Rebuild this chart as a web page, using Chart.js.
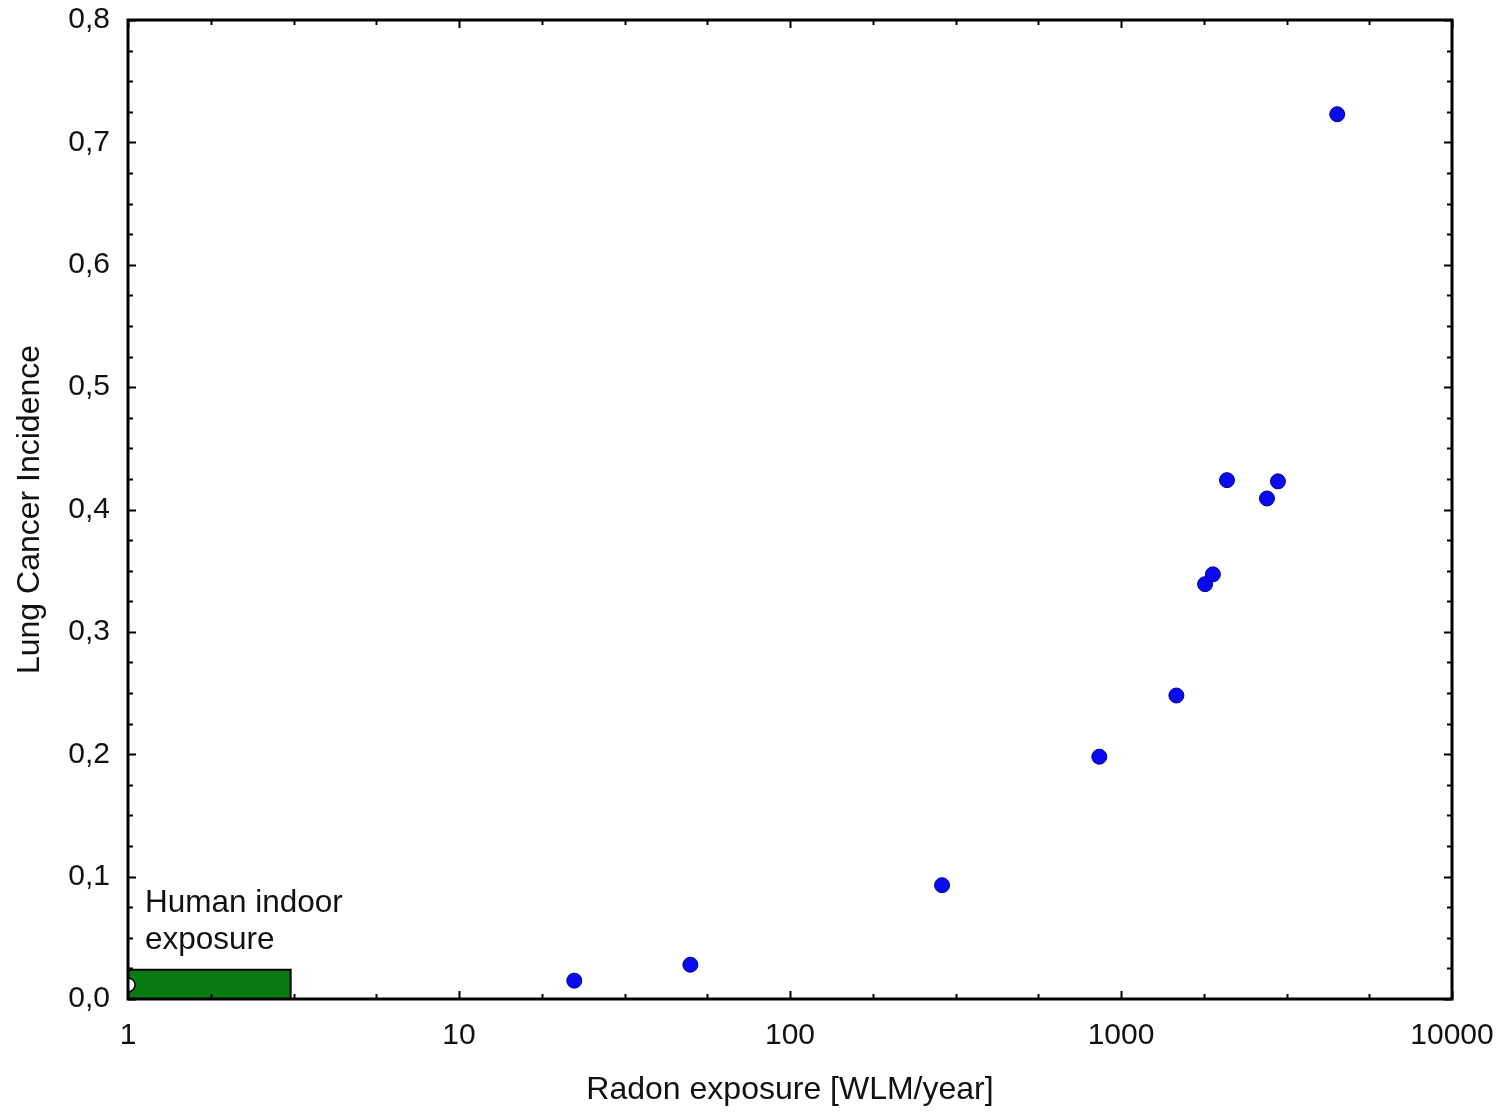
<!DOCTYPE html>
<html>
<head>
<meta charset="utf-8">
<script src="https://cdn.jsdelivr.net/npm/chart.js@4.4.1/dist/chart.umd.min.js"></script>
<style>
  html, body { margin: 0; padding: 0; background: #fff; }
  canvas { display: block; }
</style>
</head>
<body>
<canvas id="grafico" width="1502" height="1112"></canvas>
<script>
// valores
const radonExposure = [22.3, 50, 288, 860, 1470, 1795, 1895, 2090, 2760, 2980, 4500];
const lungCancer = [0.015, 0.028, 0.093, 0.198, 0.248, 0.339, 0.347, 0.424, 0.409, 0.423, 0.723];

// caja "Human indoor exposure"
const indoorX = [1, 1, 3.1, 3.1];
const indoorY = [0, 0.024, 0.024, 0];
const indoorLabel = ["Human indoor", "exposure"];

// marcador recortado en el borde izquierdo
const edgeX = [1];
const edgeY = [0.0115];

const xTickLabels = [1, 10, 100, 1000, 10000];
const yTickLabels = [0, 0.1, 0.2, 0.3, 0.4, 0.5, 0.6, 0.7, 0.8];

const FONT = "'Liberation Sans', Arial, sans-serif";

// marcas hacia dentro en los cuatro lados + marco
const marcoPlugin = {
    id: 'marco',
    afterDatasetsDraw(chart) {
        const {ctx, chartArea: a, scales: {x, y}} = chart;
        ctx.save();
        ctx.strokeStyle = '#000';
        ctx.lineWidth = 2;
        ctx.beginPath();
        for (let k = 0; k <= 16; k++) {
            const v = Math.pow(10, k / 4);
            const px = Math.round(x.getPixelForValue(v)) + 0.5;
            const len = k % 4 === 0 ? 8 : 5;
            ctx.moveTo(px, a.bottom); ctx.lineTo(px, a.bottom - len);
            ctx.moveTo(px, a.top); ctx.lineTo(px, a.top + len);
        }
        for (let k = 0; k <= 32; k++) {
            const v = k * 0.025;
            const py = Math.round(y.getPixelForValue(v)) + 0.5;
            const len = k % 4 === 0 ? 8 : 5;
            ctx.moveTo(a.left, py); ctx.lineTo(a.left + len, py);
            ctx.moveTo(a.right, py); ctx.lineTo(a.right - len, py);
        }
        ctx.stroke();
        ctx.lineWidth = 3;
        ctx.strokeRect(a.left, a.top, a.right - a.left, a.bottom - a.top);

        // texto de la caja verde
        ctx.fillStyle = '#111';
        ctx.font = '31.5px ' + FONT;
        ctx.textBaseline = 'alphabetic';
        const tx = x.getPixelForValue(indoorX[0]) + 17;
        const ty = y.getPixelForValue(indoorY[1]) - 21;
        ctx.fillText(indoorLabel[0], tx, ty - 37);
        ctx.fillText(indoorLabel[1], tx, ty);
        ctx.restore();
    }
};

document.addEventListener("DOMContentLoaded", () => {
    const ctx = document.getElementById('grafico').getContext('2d');

    new Chart(ctx, {
        type: 'scatter',
        data: {
            datasets: [
                {
                    label: 'indoor',
                    data: indoorX.map((v, i) => ({x: v, y: indoorY[i]})),
                    showLine: true,
                    fill: 'origin',
                    backgroundColor: '#0a7a12',
                    borderColor: '#000',
                    borderWidth: 2,
                    pointRadius: 0,
                    tension: 0,
                    clip: 0,
                    order: 3
                },
                {
                    label: 'edge',
                    data: edgeX.map((v, i) => ({x: v, y: edgeY[i]})),
                    pointRadius: 7,
                    backgroundColor: '#fff',
                    borderColor: '#000',
                    borderWidth: 1.5,
                    clip: 0,
                    order: 2
                },
                {
                    label: 'Lung Cancer Incidence',
                    data: radonExposure.map((v, i) => ({x: v, y: lungCancer[i]})),
                    pointRadius: 7.5,
                    backgroundColor: '#0a0af0',
                    borderColor: '#00008a',
                    borderWidth: 1,
                    order: 1
                }
            ]
        },
        options: {
            responsive: false,
            animation: false,
            devicePixelRatio: 1,
            layout: {padding: {left: 0, top: 20, right: 50, bottom: 0}},
            plugins: {
                legend: {display: false},
                tooltip: {enabled: false}
            },
            scales: {
                x: {
                    type: 'logarithmic',
                    min: 1,
                    max: 10000,
                    grid: {display: false, drawTicks: false},
                    border: {display: false},
                    afterBuildTicks: s => { s.ticks = xTickLabels.map(v => ({value: v})); },
                    afterFit: s => { s.height = 113; s.paddingLeft = 0; s.paddingRight = 0; },
                    ticks: {
                        autoSkip: false,
                        maxRotation: 0,
                        padding: 19,
                        color: '#111',
                        font: {family: FONT, size: 30},
                        callback: v => String(v)
                    },
                    title: {
                        display: true,
                        text: 'Radon exposure [WLM/year]',
                        color: '#111',
                        font: {family: FONT, size: 32},
                        padding: {top: 0, bottom: 3}
                    }
                },
                y: {
                    min: 0,
                    max: 0.8,
                    grid: {display: false, drawTicks: false},
                    border: {display: false},
                    afterBuildTicks: s => { s.ticks = yTickLabels.map(v => ({value: v})); },
                    afterFit: s => { s.width = 128; s.paddingTop = 0; s.paddingBottom = 0; },
                    ticks: {
                        padding: 18,
                        color: '#111',
                        font: {family: FONT, size: 30},
                        callback: v => v.toFixed(1).replace('.', ',')
                    },
                    title: {
                        display: true,
                        text: 'Lung Cancer Incidence',
                        color: '#111',
                        font: {family: FONT, size: 32},
                        padding: {top: 11, bottom: 0}
                    }
                }
            }
        },
        plugins: [marcoPlugin]
    });
});
</script>
</body>
</html>
